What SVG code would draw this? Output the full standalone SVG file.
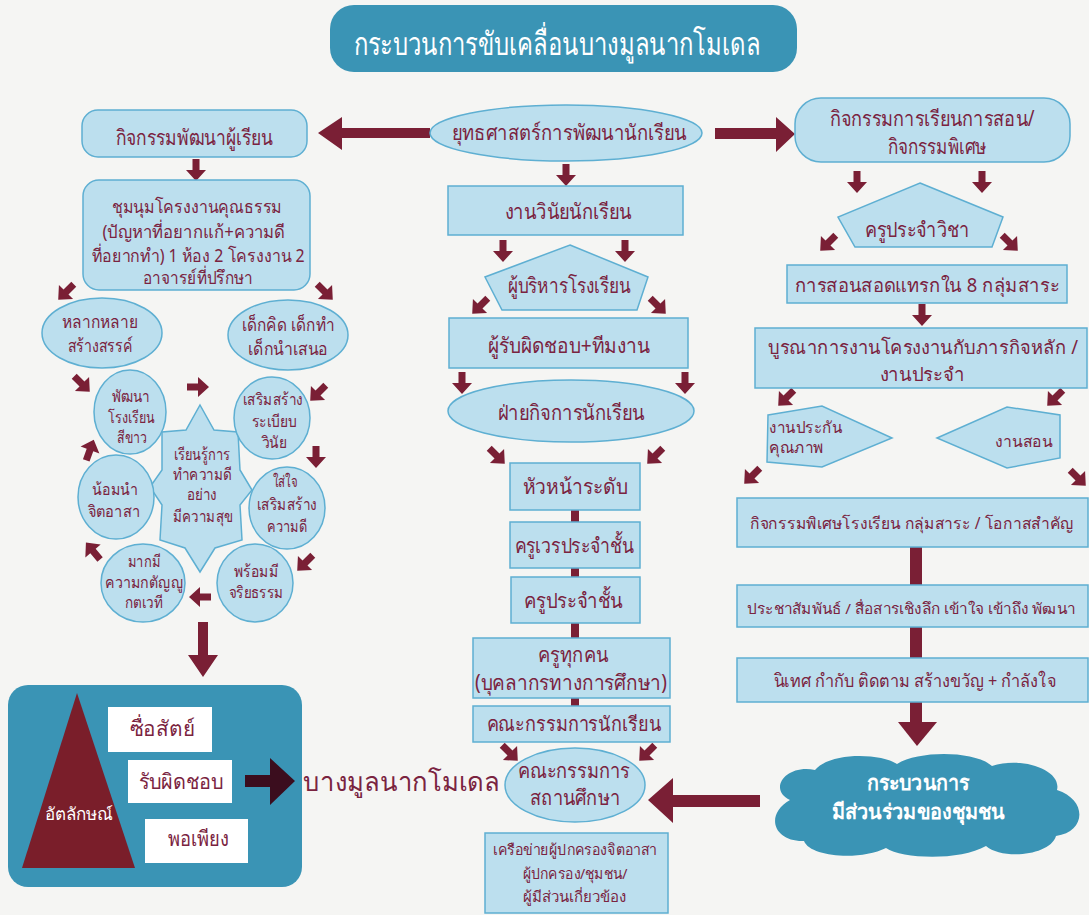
<svg xmlns="http://www.w3.org/2000/svg" width="1089" height="915" viewBox="0 0 1089 915">
<defs>
<style>
.bg{fill:#f5f5f3}
.lb{fill:#bcdfee;stroke:#5eafd2;stroke-width:1.5}
.t{font-family:"Noto Sans","DejaVu Sans",sans-serif;fill:#7a2340;text-anchor:middle}
.w{fill:#ffffff}
.s22{font-size:21px}
.s20{font-size:19px}
.s19{font-size:18px}
.s18{font-size:16px}
.s16{font-size:15px}
.ar{fill:#7a1f35}
.teal{fill:#3a94b5}
</style>
<path id="sa" d="M-3.5,-11 L3.5,-11 L3.5,0 L10,0 L0,11 L-10,0 L-3.5,0 Z"/>
</defs>
<rect class="bg" x="0" y="0" width="1089" height="915"/>

<g id="title">
<rect class="teal" x="330" y="5" width="467" height="67" rx="24"/>
<text class="t w" x="557" y="55" style="font-size:32px" textLength="407" lengthAdjust="spacingAndGlyphs">กระบวนการขับเคลื่อนบางมูลนากโมเดล</text>
</g>

<g id="connectors">
<rect class="ar" x="571" y="505" width="8" height="205"/>
<rect class="ar" x="910" y="545" width="12" height="180"/>
<path class="ar" d="M430,128 L342,128 L342,117 L318,133 L342,150 L342,138 L430,138 Z"/>
<path class="ar" d="M715,128 L776,128 L776,117 L795,134 L776,152 L776,139 L715,139 Z"/>
<path class="ar" d="M760,795 L673,795 L673,778 L648,800 L673,823 L673,807 L760,807 Z"/>
<path class="ar" d="M198,622 L208,622 L208,655 L218,655 L203,677 L188,655 L198,655 Z"/>
<path class="ar" d="M898,722 L937,722 L917,746 Z"/>
<use href="#sa" class="ar" transform="translate(196,170)"/>
<use href="#sa" class="ar" transform="translate(66,292) rotate(45)"/>
<use href="#sa" class="ar" transform="translate(325,292) rotate(-45)"/>
<use href="#sa" class="ar" transform="translate(82,384) rotate(-45)"/>
<use href="#sa" class="ar" transform="translate(198,387) rotate(-90)"/>
<use href="#sa" class="ar" transform="translate(318,393) rotate(45)"/>
<use href="#sa" class="ar" transform="translate(316,457)"/>
<use href="#sa" class="ar" transform="translate(305,563) rotate(45)"/>
<use href="#sa" class="ar" transform="translate(200,597) rotate(90)"/>
<use href="#sa" class="ar" transform="translate(93,551) rotate(140)"/>
<use href="#sa" class="ar" transform="translate(90,450) rotate(200)"/>
<use href="#sa" class="ar" transform="translate(566,175)"/>
<use href="#sa" class="ar" transform="translate(503,251)"/>
<use href="#sa" class="ar" transform="translate(625,251)"/>
<use href="#sa" class="ar" transform="translate(480,306) rotate(45)"/>
<use href="#sa" class="ar" transform="translate(658,306) rotate(-45)"/>
<use href="#sa" class="ar" transform="translate(462,383)"/>
<use href="#sa" class="ar" transform="translate(685,383)"/>
<use href="#sa" class="ar" transform="translate(497,456) rotate(-45)"/>
<use href="#sa" class="ar" transform="translate(655,456) rotate(45)"/>
<use href="#sa" class="ar" transform="translate(510,753) rotate(-45)"/>
<use href="#sa" class="ar" transform="translate(647,753) rotate(45)"/>
<use href="#sa" class="ar" transform="translate(857,182)"/>
<use href="#sa" class="ar" transform="translate(982,182)"/>
<use href="#sa" class="ar" transform="translate(828,243) rotate(45)"/>
<use href="#sa" class="ar" transform="translate(1010,243) rotate(-45)"/>
<use href="#sa" class="ar" transform="translate(922,315)"/>
<use href="#sa" class="ar" transform="translate(786,398) rotate(45)"/>
<use href="#sa" class="ar" transform="translate(1055,398) rotate(45)"/>
<use href="#sa" class="ar" transform="translate(752,476) rotate(45)"/>
<use href="#sa" class="ar" transform="translate(1078,478) rotate(-45)"/>
</g>

<g id="n-kitjakam">
<rect class="lb" x="82" y="110" width="225" height="47" rx="16"/>
<text class="t s22" x="194" y="145" textLength="157" lengthAdjust="spacingAndGlyphs">กิจกรรมพัฒนาผู้เรียน</text>
</g>
<g id="n-chumnum">
<rect class="lb" x="83" y="180" width="227" height="110" rx="16"/>
<text class="t s19" x="197" y="213" textLength="170" lengthAdjust="spacingAndGlyphs">ชุมนุมโครงงานคุณธรรม</text>
<text class="t s19" x="194" y="238" textLength="183" lengthAdjust="spacingAndGlyphs">(ปัญหาที่อยากแก้+ความดี</text>
<text class="t s19" x="198" y="262" textLength="213" lengthAdjust="spacingAndGlyphs">ที่อยากทำ) 1 ห้อง 2 โครงงาน 2</text>
<text class="t s19" x="198" y="284" textLength="110" lengthAdjust="spacingAndGlyphs">อาจารย์ที่ปรึกษา</text>
</g>
<g id="n-laklai">
<ellipse class="lb" cx="102" cy="333" rx="60" ry="35"/>
<text class="t s19" x="100" y="328" textLength="76" lengthAdjust="spacingAndGlyphs">หลากหลาย</text>
<text class="t s19" x="100" y="352" textLength="65" lengthAdjust="spacingAndGlyphs">สร้างสรรค์</text>
</g>
<g id="n-dekkit">
<ellipse class="lb" cx="288" cy="335" rx="60" ry="35"/>
<text class="t s19" x="288" y="331" textLength="93" lengthAdjust="spacingAndGlyphs">เด็กคิด เด็กทำ</text>
<text class="t s19" x="288" y="355" textLength="80" lengthAdjust="spacingAndGlyphs">เด็กนำเสนอ</text>
</g>
<g id="n-star">
<polygon class="lb" points="200,405 214,430 238,432 240,470 252,490 240,505 242,540 215,548 200,572 185,548 160,540 162,505 150,487 162,470 162,432 186,430"/>
<text class="t s18" x="202" y="460" textLength="57" lengthAdjust="spacingAndGlyphs">เรียนรู้การ</text>
<text class="t s18" x="202" y="480" textLength="59" lengthAdjust="spacingAndGlyphs">ทำความดี</text>
<text class="t s18" x="202" y="500" textLength="30" lengthAdjust="spacingAndGlyphs">อย่าง</text>
<text class="t s18" x="203" y="522" textLength="60" lengthAdjust="spacingAndGlyphs">มีความสุข</text>
</g>
<g id="n-pattana">
<ellipse class="lb" cx="130" cy="412" rx="36" ry="42"/>
<text class="t s18" x="131" y="402" textLength="38" lengthAdjust="spacingAndGlyphs">พัฒนา</text>
<text class="t s18" x="131" y="423" textLength="47" lengthAdjust="spacingAndGlyphs">โรงเรียน</text>
<text class="t s18" x="132" y="443" textLength="30" lengthAdjust="spacingAndGlyphs">สีขาว</text>
</g>
<g id="n-sermsang">
<ellipse class="lb" cx="272" cy="418" rx="38" ry="41"/>
<text class="t s18" x="273" y="405" textLength="60" lengthAdjust="spacingAndGlyphs">เสริมสร้าง</text>
<text class="t s18" x="274" y="427" textLength="45" lengthAdjust="spacingAndGlyphs">ระเบียบ</text>
<text class="t s18" x="274" y="448" textLength="25" lengthAdjust="spacingAndGlyphs">วินัย</text>
</g>
<g id="n-nomnam">
<ellipse class="lb" cx="116" cy="497" rx="38" ry="42"/>
<text class="t s18" x="115" y="495" textLength="46" lengthAdjust="spacingAndGlyphs">น้อมนำ</text>
<text class="t s18" x="114" y="517" textLength="52" lengthAdjust="spacingAndGlyphs">จิตอาสา</text>
</g>
<g id="n-saijai">
<ellipse class="lb" cx="287" cy="508" rx="38" ry="41"/>
<text class="t s18" x="285" y="487" textLength="25" lengthAdjust="spacingAndGlyphs">ใส่ใจ</text>
<text class="t s18" x="287" y="510" textLength="60" lengthAdjust="spacingAndGlyphs">เสริมสร้าง</text>
<text class="t s18" x="287" y="532" textLength="40" lengthAdjust="spacingAndGlyphs">ความดี</text>
</g>
<g id="n-makmee">
<ellipse class="lb" cx="143" cy="583" rx="42" ry="39"/>
<text class="t s18" x="144" y="567" textLength="33" lengthAdjust="spacingAndGlyphs">มากมี</text>
<text class="t s18" x="144" y="588" textLength="78" lengthAdjust="spacingAndGlyphs">ความกตัญญู</text>
<text class="t s18" x="144" y="608" textLength="38" lengthAdjust="spacingAndGlyphs">กตเวที</text>
</g>
<g id="n-promee">
<ellipse class="lb" cx="255" cy="583" rx="38" ry="39"/>
<text class="t s18" x="256" y="577" textLength="45" lengthAdjust="spacingAndGlyphs">พร้อมมี</text>
<text class="t s18" x="256" y="598" textLength="55" lengthAdjust="spacingAndGlyphs">จริยธรรม</text>
</g>
<g id="n-identity">
<rect class="teal" x="8" y="685" width="294" height="202" rx="20"/>
<polygon fill="#7a1e2a" points="77,693 22,868 135,868"/>
<text class="t w" x="79" y="820" style="font-size:17px" textLength="68" lengthAdjust="spacingAndGlyphs">อัตลักษณ์</text>
<rect fill="#ffffff" x="108" y="707" width="104" height="45"/>
<text class="t s22" x="162" y="736" textLength="65" lengthAdjust="spacingAndGlyphs">ซื่อสัตย์</text>
<rect fill="#ffffff" x="128" y="760" width="104" height="43"/>
<text class="t s22" x="181" y="789" textLength="85" lengthAdjust="spacingAndGlyphs">รับผิดชอบ</text>
<rect fill="#ffffff" x="145" y="819" width="103" height="44"/>
<text class="t s22" x="198" y="846" textLength="61" lengthAdjust="spacingAndGlyphs">พอเพียง</text>
<path fill="#3b0d1e" d="M245,775 L270,775 L270,758 L295,781 L270,805 L270,787 L245,787 Z"/>
</g>
<g id="n-model">
<text class="t" x="303" y="791" style="font-size:26px;text-anchor:start" textLength="197" lengthAdjust="spacingAndGlyphs">บางมูลนากโมเดล</text>
</g>

<g id="n-yuttasat">
<ellipse class="lb" cx="566" cy="133" rx="136" ry="28"/>
<text class="t s22" x="569" y="140" textLength="235" lengthAdjust="spacingAndGlyphs">ยุทธศาสตร์การพัฒนานักเรียน</text>
</g>
<g id="n-winai">
<rect class="lb" x="448" y="186" width="235" height="49"/>
<text class="t s22" x="568" y="219" textLength="127" lengthAdjust="spacingAndGlyphs">งานวินัยนักเรียน</text>
</g>
<g id="n-poborihan">
<polygon class="lb" points="570,245 648,277 637,310 502,310 485,277"/>
<text class="t s22" x="569" y="293" textLength="122" lengthAdjust="spacingAndGlyphs">ผู้บริหารโรงเรียน</text>
</g>
<g id="n-rabpid">
<rect class="lb" x="449" y="318" width="239" height="50"/>
<text class="t s22" x="569" y="353" textLength="162" lengthAdjust="spacingAndGlyphs">ผู้รับผิดชอบ+ทีมงาน</text>
</g>
<g id="n-faikitjakan">
<ellipse class="lb" cx="571" cy="411" rx="123" ry="31"/>
<text class="t s22" x="571" y="420" textLength="147" lengthAdjust="spacingAndGlyphs">ฝ่ายกิจการนักเรียน</text>
</g>
<g id="n-huana">
<rect class="lb" x="510" y="463" width="130" height="47"/>
<text class="t s22" x="575" y="494" textLength="105" lengthAdjust="spacingAndGlyphs">หัวหน้าระดับ</text>
</g>
<g id="n-kruwen">
<rect class="lb" x="510" y="522" width="130" height="46"/>
<text class="t s22" x="574" y="553" textLength="119" lengthAdjust="spacingAndGlyphs">ครูเวรประจำชั้น</text>
</g>
<g id="n-kruprajam">
<rect class="lb" x="511" y="577" width="129" height="46"/>
<text class="t s22" x="573" y="608" textLength="99" lengthAdjust="spacingAndGlyphs">ครูประจำชั้น</text>
</g>
<g id="n-krutuk">
<rect class="lb" x="473" y="638" width="197" height="60"/>
<text class="t s22" x="573" y="662" textLength="70" lengthAdjust="spacingAndGlyphs">ครูทุกคน</text>
<text class="t s22" x="571" y="690" textLength="192" lengthAdjust="spacingAndGlyphs">(บุคลากรทางการศึกษา)</text>
</g>
<g id="n-kanakammakan">
<rect class="lb" x="473" y="706" width="197" height="36"/>
<text class="t" x="574" y="731" style="font-size:20px" textLength="175" lengthAdjust="spacingAndGlyphs">คณะกรรมการนักเรียน</text>
</g>
<g id="n-satansueksa">
<ellipse class="lb" cx="575" cy="785" rx="70" ry="37"/>
<text class="t s22" x="574" y="778" textLength="112" lengthAdjust="spacingAndGlyphs">คณะกรรมการ</text>
<text class="t s22" x="575" y="805" textLength="90" lengthAdjust="spacingAndGlyphs">สถานศึกษา</text>
</g>
<g id="n-kruakai">
<rect class="lb" x="485" y="833" width="183" height="80"/>
<text class="t s16" x="575" y="855" textLength="164" lengthAdjust="spacingAndGlyphs">เครือข่ายผู้ปกครองจิตอาสา</text>
<text class="t s16" x="575" y="879" textLength="105" lengthAdjust="spacingAndGlyphs">ผู้ปกครอง/ชุมชน/</text>
<text class="t s16" x="574" y="902" textLength="103" lengthAdjust="spacingAndGlyphs">ผู้มีส่วนเกี่ยวข้อง</text>
</g>

<g id="n-kanrian">
<rect class="lb" x="795" y="98" width="275" height="64" rx="26"/>
<text class="t s22" x="932" y="126" textLength="205" lengthAdjust="spacingAndGlyphs">กิจกรรมการเรียนการสอน/</text>
<text class="t s22" x="937" y="154" textLength="99" lengthAdjust="spacingAndGlyphs">กิจกรรมพิเศษ</text>
</g>
<g id="n-kruprajamwicha">
<polygon class="lb" points="920,183 1003,217 992,247 855,247 838,217"/>
<text class="t s22" x="917" y="237" textLength="105" lengthAdjust="spacingAndGlyphs">ครูประจำวิชา</text>
</g>
<g id="n-sodsaek">
<rect class="lb" x="787" y="265" width="280" height="38"/>
<text class="t" x="927" y="292" style="font-size:19px" textLength="265" lengthAdjust="spacingAndGlyphs">การสอนสอดแทรกใน 8 กลุ่มสาระ</text>
</g>
<g id="n-buranakan">
<rect class="lb" x="755" y="328" width="332" height="60"/>
<text class="t s20" x="923" y="354" textLength="310" lengthAdjust="spacingAndGlyphs">บูรณาการงานโครงงานกับภารกิจหลัก /</text>
<text class="t s20" x="922" y="381" textLength="85" lengthAdjust="spacingAndGlyphs">งานประจำ</text>
</g>
<g id="n-prakan">
<polygon class="lb" points="768,415 822,406 892,438 822,467 767,462"/>
<text class="t s18" x="769" y="433" style="text-anchor:start" textLength="73" lengthAdjust="spacingAndGlyphs">งานประกัน</text>
<text class="t s18" x="769" y="453" style="text-anchor:start" textLength="55" lengthAdjust="spacingAndGlyphs">คุณภาพ</text>
</g>
<g id="n-ngansorn">
<polygon class="lb" points="937,438 1007,407 1060,415 1060,458 1007,468"/>
<text class="t s18" x="1024" y="447" textLength="58" lengthAdjust="spacingAndGlyphs">งานสอน</text>
</g>
<g id="n-pisettrongrian">
<rect class="lb" x="737" y="498" width="351" height="49"/>
<text class="t" x="912" y="529" style="font-size:16px" textLength="324" lengthAdjust="spacingAndGlyphs">กิจกรรมพิเศษโรงเรียน กลุ่มสาระ / โอกาสสำคัญ</text>
</g>
<g id="n-prachasamphan">
<rect class="lb" x="737" y="585" width="351" height="42"/>
<text class="t" x="911" y="614" style="font-size:15px" textLength="328" lengthAdjust="spacingAndGlyphs">ประชาสัมพันธ์ / สื่อสารเชิงลึก เข้าใจ เข้าถึง พัฒนา</text>
</g>
<g id="n-nithet">
<rect class="lb" x="737" y="658" width="351" height="44"/>
<text class="t" x="915" y="687" style="font-size:18px" textLength="283" lengthAdjust="spacingAndGlyphs">นิเทศ กำกับ ติดตาม สร้างขวัญ + กำลังใจ</text>
</g>
<g id="n-community">
<path class="teal" d="M790,800 C768,790 785,764 815,770 C830,752 880,753 897,764 C920,750 975,751 992,766 C1022,756 1062,770 1057,790 C1088,800 1086,832 1056,836 C1050,856 1002,860 986,846 C960,861 902,859 886,848 C860,861 810,857 804,841 C774,842 764,815 790,800 Z"/>
<text class="t w" x="918" y="790" style="font-size:21px;font-weight:bold" textLength="103" lengthAdjust="spacingAndGlyphs">กระบวนการ</text>
<text class="t w" x="918" y="819" style="font-size:21px;font-weight:bold" textLength="173" lengthAdjust="spacingAndGlyphs">มีส่วนร่วมของชุมชน</text>
</g>
</svg>
